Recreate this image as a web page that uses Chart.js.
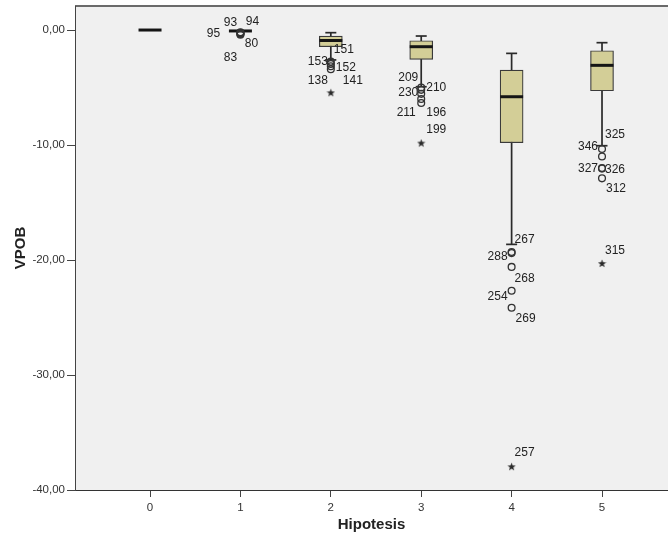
<!DOCTYPE html>
<html>
<head>
<meta charset="utf-8">
<script src="https://cdn.jsdelivr.net/npm/chart.js@4.4.0/dist/chart.umd.min.js"></script>
<style>
  html, body { margin: 0; padding: 0; background: #fff; }
  #wrap { width: 668px; height: 541px; }
</style>
</head>
<body>
<div id="wrap"><canvas id="chart" width="668" height="541"></canvas></div>
<script>
// box summary per Hipotesis group
const groups = [0, 1, 2, 3, 4, 5];
const whiskerTop = [0, -0.08, -0.23, -0.52, -2.03, -1.10];
const upperQuartile = [0, -0.08, -0.52, -0.93, -3.48, -1.80];
const medians = [0, -0.08, -0.91, -1.45, -5.80, -3.07];
const lowerQuartile = [0, -0.08, -1.45, -2.55, -9.80, -5.28];
const whiskerBottom = [0, -0.08, -2.60, -4.93, -18.64, -10.06];

// outliers (circles)
const outlierGroup = [1, 1, 1, 1, 1, 2, 2, 2, 2, 3, 3, 3, 3, 3, 4, 4, 4, 4, 4, 5, 5, 5, 5, 5];
const outlierValue = [-0.20, -0.25, -0.30, -0.35, -0.40, -2.75, -2.95, -3.15, -3.40,
  -5.00, -5.20, -5.55, -6.00, -6.35, -19.30, -19.40, -20.60, -22.67, -24.15,
  -10.35, -11.00, -12.00, -12.05, -12.90];
const outlierCase = [93, 94, 95, 80, 83, 151, 153, 152, 138, 209, 210, 230, 211, 196,
  267, 288, 268, 254, 269, 325, 346, 327, 326, 312];

// extreme values (stars)
const extremeGroup = [2, 3, 4, 5];
const extremeValue = [-5.45, -9.83, -37.97, -20.30];
const extremeCase = [141, 199, 257, 315];

const yTicks = [-40, -30, -20, -10, 0];

// where each case number sits relative to its point (px)
const caseLabelOffset = {
  93: [-10, -10], 94: [12, -11], 95: [-27, 0], 80: [11, 10], 83: [-10, 23],
  151: [13, -12], 153: [-13, -2], 152: [15, 1], 138: [-13, 12], 141: [22, -12],
  209: [-13, -10], 210: [15, -2], 230: [-13, -1], 211: [-15, 14], 196: [15, 10], 199: [15, -13],
  267: [13, -12], 288: [-14, 4], 268: [13, 12], 254: [-14, 6], 269: [14, 11], 257: [13, -14],
  325: [13, -14], 346: [-14, -10], 327: [-14, 1], 326: [13, 1], 312: [14, 10], 315: [13, -13]
};

const FONT = '"Liberation Sans", Arial, sans-serif';
Chart.defaults.font.family = FONT;
Chart.defaults.color = '#333';

// filled five point star for extremes
function makeStar() {
  const c = document.createElement('canvas');
  c.width = 9; c.height = 9;
  const g = c.getContext('2d');
  g.fillStyle = '#2a2a2a';
  g.beginPath();
  for (let k = 0; k < 10; k++) {
    const r = k % 2 === 0 ? 4.4 : 1.8;
    const a = -Math.PI / 2 + k * Math.PI / 5;
    const px = 4.5 + r * Math.cos(a), py = 4.8 + r * Math.sin(a);
    k === 0 ? g.moveTo(px, py) : g.lineTo(px, py);
  }
  g.closePath();
  g.fill();
  return c;
}

const plotBackground = {
  id: 'plotBackground',
  beforeDraw(chart) {
    const { ctx, chartArea: a } = chart;
    ctx.save();
    ctx.fillStyle = '#fff';
    ctx.fillRect(0, 0, chart.width, chart.height);
    ctx.fillStyle = '#f0f0f0';
    ctx.fillRect(a.left, a.top, a.right - a.left, a.bottom - a.top);
    ctx.strokeStyle = '#6a6a6a';
    ctx.lineWidth = 2;
    ctx.beginPath();
    ctx.moveTo(a.left, a.top);
    ctx.lineTo(a.right, a.top);
    ctx.stroke();
    ctx.restore();
  }
};

const caseLabels = {
  id: 'caseLabels',
  afterDatasetsDraw(chart) {
    const { ctx } = chart;
    ctx.save();
    ctx.font = '12px ' + FONT;
    ctx.fillStyle = '#222';
    ctx.textAlign = 'center';
    ctx.textBaseline = 'middle';
    chart.data.datasets.forEach((ds, di) => {
      if (!ds.cases) return;
      chart.getDatasetMeta(di).data.forEach((pt, i) => {
        const id = ds.cases[i];
        const off = caseLabelOffset[id] || [12, -10];
        ctx.fillText(String(id), pt.x + off[0], pt.y + off[1]);
      });
    });
    ctx.restore();
  }
};

const whiskerData = groups.flatMap((g, i) => [
  { x: g, y: whiskerTop[i] }, { x: g, y: whiskerBottom[i] }, { x: g, y: null }
]);
const capData = groups.flatMap((g, i) => [
  { x: g, y: whiskerTop[i] }, { x: g, y: whiskerBottom[i] }
]);

new Chart(document.getElementById('chart'), {
  type: 'scatter',
  data: {
    datasets: [
      {
        type: 'line',
        data: whiskerData,
        borderColor: '#2a2a2a',
        borderWidth: 1.7,
        pointRadius: 0,
        spanGaps: false,
        order: 6
      },
      {
        type: 'bar',
        data: groups.map((g, i) => ({ x: g, y: [lowerQuartile[i], upperQuartile[i]] })),
        backgroundColor: '#d3ce97',
        borderColor: '#3a3a3a',
        borderWidth: 1.2,
        borderSkipped: false,
        barThickness: 23,
        order: 5
      },
      {
        data: capData,
        pointStyle: 'line',
        pointRadius: 5.5,
        borderColor: '#2a2a2a',
        borderWidth: 1.7,
        order: 4
      },
      {
        data: groups.map((g, i) => ({ x: g, y: medians[i] })),
        pointStyle: 'line',
        pointRadius: 11.5,
        borderColor: '#151515',
        borderWidth: 3,
        order: 3
      },
      {
        data: outlierGroup.map((g, i) => ({ x: g, y: outlierValue[i] })),
        cases: outlierCase,
        pointStyle: 'circle',
        pointRadius: 3.4,
        backgroundColor: 'rgba(0,0,0,0)',
        borderColor: '#333',
        borderWidth: 1.3,
        order: 2
      },
      {
        data: extremeGroup.map((g, i) => ({ x: g, y: extremeValue[i] })),
        cases: extremeCase,
        pointStyle: makeStar(),
        order: 1
      }
    ]
  },
  options: {
    responsive: false,
    animation: false,
    events: [],
    layout: { autoPadding: false, padding: { top: 6, right: 0, bottom: 0, left: 0 } },
    plugins: { legend: { display: false }, tooltip: { enabled: false } },
    scales: {
      x: {
        type: 'linear',
        min: -0.83,
        max: 5.73,
        offset: false,
        afterBuildTicks: s => { s.ticks = groups.map(v => ({ value: v })); },
        afterFit: s => { s.height = 51; s.paddingLeft = 0; s.paddingRight = 0; },
        grid: { offset: false, drawOnChartArea: false, tickLength: 7, tickColor: '#444', tickWidth: 1 },
        border: { display: true, color: '#333', width: 1 },
        ticks: { padding: 4, font: { size: 11.5 }, color: '#333', callback: v => String(v) },
        title: {
          display: true,
          text: 'Hipotesis',
          font: { size: 15, weight: 'bold' },
          color: '#222',
          padding: { top: 0, bottom: 7 }
        }
      },
      y: {
        type: 'linear',
        min: -40,
        max: 2.09,
        afterBuildTicks: s => { s.ticks = yTicks.map(v => ({ value: v })); },
        afterFit: s => { s.width = 75; s.paddingTop = 0; s.paddingBottom = 0; },
        grid: { drawOnChartArea: false, tickLength: 8, tickColor: '#444', tickWidth: 1 },
        border: { display: true, color: '#444', width: 1 },
        ticks: {
          padding: 2,
          font: { size: 11.5 },
          color: '#333',
          callback: v => v.toFixed(2).replace('.', ',')
        },
        title: {
          display: true,
          text: 'VPOB',
          font: { size: 15, weight: 'bold' },
          color: '#222',
          padding: { top: 12, bottom: 0 }
        }
      }
    }
  },
  plugins: [plotBackground, caseLabels]
});
</script>
</body>
</html>
